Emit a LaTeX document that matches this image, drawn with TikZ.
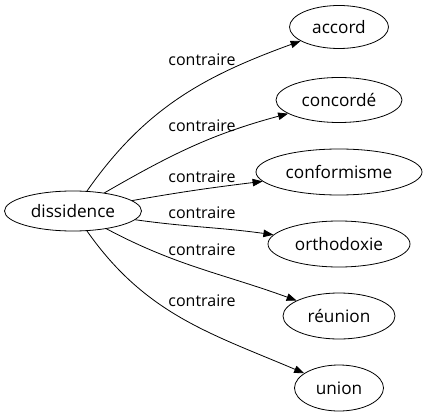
\documentclass[tikz,border=0pt]{standalone}
\usepackage{fontspec}
\setmainfont{Open Sans}
\usetikzlibrary{shapes.geometric,arrows.meta}
\begin{document}
\begin{tikzpicture}[x=1pt,y=-1pt,
  word/.style={ellipse,draw,line width=0.8pt,inner sep=0pt,font=\fontsize{17.2}{20}\selectfont},
  lab/.style={inner sep=0pt,font=\fontsize{16}{19}\selectfont},
  rel/.style={line width=0.8pt,-{Triangle[length=10pt,width=7.5pt]}}]
\useasboundingbox (0,0) rectangle (427,419);
\node[word,minimum width=137pt,minimum height=40pt] (d) at (73,211) {dissidence};
\node[word,minimum width=99pt,minimum height=43pt] (a1) at (339,27) {accord};
\node[word,minimum width=126pt,minimum height=45pt] (a2) at (339,100) {concordé};
\node[word,minimum width=166pt,minimum height=46pt] (a3) at (339,172) {conformisme};
\node[word,minimum width=142pt,minimum height=46pt] (a4) at (339,244) {orthodoxie};
\node[word,minimum width=112pt,minimum height=46pt] (a5) at (339,316) {réunion};
\node[word,minimum width=89pt,minimum height=46pt] (a6) at (339,388) {union};
\draw[rel] (d) to[out=55,in=200] (a1);
\draw[rel] (d) to[out=30,in=195] (a2);
\draw[rel] (d) to[out=10,in=187] (a3);
\draw[rel] (d) to[out=-8,in=172] (a4);
\draw[rel] (d) to[out=-28,in=160] (a5);
\draw[rel] (d) to[out=-55,in=157] (a6);
\node[lab] (l1) at (202,60) {contraire};
\node[lab] (l2) at (202,126) {contraire};
\node[lab] (l3) at (202,177) {contraire};
\node[lab] (l4) at (202,213) {contraire};
\node[lab] (l5) at (202,250) {contraire};
\node[lab] (l6) at (202,301) {contraire};
\end{tikzpicture}
\end{document}
